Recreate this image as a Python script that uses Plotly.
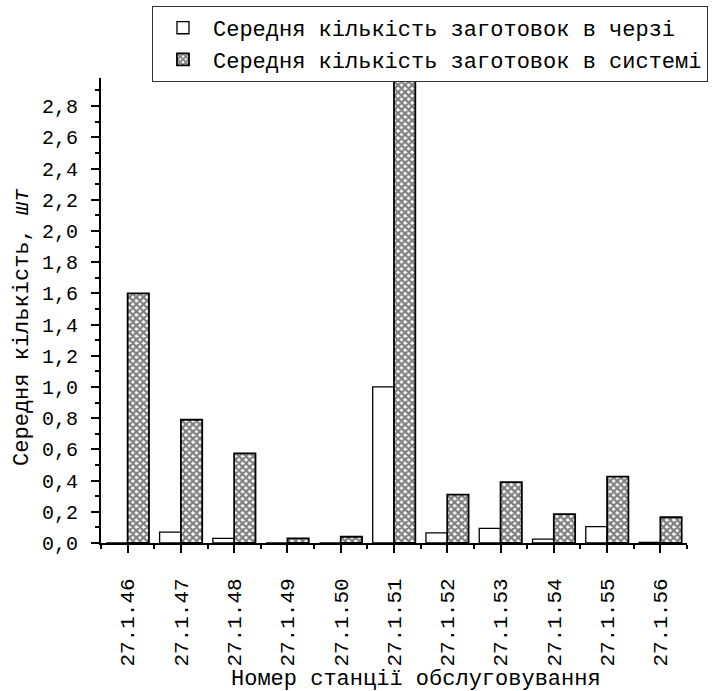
import plotly.graph_objects as go

stations = ["27.1.46", "27.1.47", "27.1.48", "27.1.49", "27.1.50", "27.1.51",
            "27.1.52", "27.1.53", "27.1.54", "27.1.55", "27.1.56"]
queue = [0.0, 0.07, 0.03, 0.0, 0.0, 1.0, 0.065, 0.094, 0.025, 0.105, 0.004]
system = [1.6, 0.79, 0.575, 0.03, 0.04, 3.2, 0.31, 0.39, 0.185, 0.425, 0.165]
ytick_vals = [0.0, 0.2, 0.4, 0.6, 0.8, 1.0, 1.2, 1.4, 1.6, 1.8, 2.0, 2.2, 2.4, 2.6, 2.8]
ytick_text = ["0,0", "0,2", "0,4", "0,6", "0,8", "1,0", "1,2", "1,4", "1,6", "1,8",
              "2,0", "2,2", "2,4", "2,6", "2,8"]
x_title = "Номер станції обслуговування"
y_title = "Середня кількість, <i>шт</i>"

FONT = "Liberation Mono, Courier New, monospace"
xpos = list(range(len(stations)))

fig = go.Figure()
fig.add_trace(go.Bar(
    x=xpos, y=queue, name="Середня кількість заготовок в черзі",
    marker=dict(color="white", line=dict(color="black", width=1.3)),
))
fig.add_trace(go.Bar(
    x=xpos, y=system, name="Середня кількість заготовок в системі",
    marker=dict(color="white", line=dict(color="black", width=1.8),
                pattern=dict(shape="x", fgcolor="black", bgcolor="white",
                             size=5, solidity=0.7)),
))

fig.update_layout(
    width=715, height=691,
    margin=dict(l=101, r=28, t=78, b=148, autoexpand=False),
    paper_bgcolor="white", plot_bgcolor="white",
    barmode="group", bargap=0.2, bargroupgap=0,
    font=dict(family=FONT, size=20, color="black"),
    showlegend=True,
    legend=dict(x=0.087, y=1.155, xanchor="left", yanchor="top",
                bordercolor="#333", borderwidth=1, bgcolor="white",
                font=dict(family=FONT, size=22, color="black"),
                tracegroupgap=0, itemwidth=50),
    xaxis=dict(
        range=[-0.5, 10.5], tickmode="array", tickvals=xpos, ticktext=stations,
        tickangle=-90, ticks="outside", ticklen=8, tickwidth=2, tickcolor="black",
        showline=True, linecolor="black", linewidth=2, showgrid=False, zeroline=False,
        minor=dict(tickmode="linear", tick0=0.5, dtick=1, ticks="outside",
                   ticklen=4, tickwidth=2, tickcolor="black", showgrid=False),
        tickfont=dict(family=FONT, size=21),
        ticklabelstandoff=17, automargin=False,
    ),
    yaxis=dict(
        range=[0, 2.98], tickmode="array", tickvals=ytick_vals, ticktext=ytick_text,
        ticks="outside", ticklen=8, tickwidth=2, tickcolor="black",
        showline=True, linecolor="black", linewidth=2, showgrid=False, zeroline=False,
        minor=dict(tickmode="linear", tick0=0, dtick=0.1, ticks="outside",
                   ticklen=4, tickwidth=2, tickcolor="black", showgrid=False),
        tickfont=dict(family=FONT, size=20),
        ticklabelstandoff=9, automargin=False,
    ),
    annotations=[
        dict(text=x_title, xref="paper", yref="paper", x=0.5375, y=-0.2946,
             xanchor="center", yanchor="middle", showarrow=False,
             font=dict(family=FONT, size=22, color="black")),
        dict(text=y_title, xref="paper", yref="paper", x=-0.135, y=0.4645,
             xanchor="center", yanchor="middle", textangle=-90, showarrow=False,
             font=dict(family=FONT, size=22, color="black")),
    ],
)

fig.write_html("out.html", config={"displayModeBar": False},
               post_script="document.body.style.margin='0';document.body.style.overflow='hidden';")
